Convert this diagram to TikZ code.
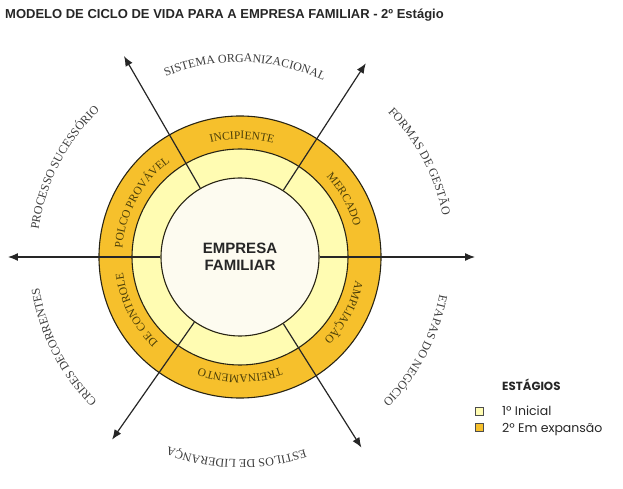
\documentclass[tikz,border=0pt]{standalone}
\usepackage{fontspec}
\setmainfont{Liberation Sans}
\newfontfamily\serifface{Liberation Serif}
\newfontfamily\legendface{Poppins}
\usepackage{tikz}
\usetikzlibrary{decorations.text}
\usetikzlibrary{arrows.meta}

\definecolor{gold}{RGB}{246,192,44}
\definecolor{paleyellow}{RGB}{255,252,178}
\definecolor{cream}{RGB}{253,251,240}
\definecolor{ringink}{RGB}{75,62,8}
\definecolor{outerink}{RGB}{60,60,60}
\definecolor{edge}{RGB}{40,36,20}

\newcommand{\ringfont}{\serifface\fontsize{11.5}{11.5}\selectfont\color{ringink}}
\newcommand{\outerfont}{\serifface\fontsize{12}{12}\selectfont\color{outerink}}
% label inside the gold band, clockwise, tops outward
\newcommand{\ringlabel}[2]{\path[decorate, decoration={text along path, text align=center, text={|\ringfont|#2}}] ({#1+30}:118) arc[start angle=#1+30, end angle=#1-30, radius=118];}
% label outside the wheel
\newcommand{\outerlabel}[3]{\path[decorate, decoration={text along path, text align=center, text={|\outerfont|#3}}] ({#1+45}:#2) arc[start angle=#1+45, end angle=#1-45, radius=#2];}
\newcommand{\spoke}[2]{\draw[spokeline] (core.#1) -- (#2);}

\tikzset{
  ringedge/.style={draw=edge, line width=1.1pt},
  spokeline/.style={draw=black!85, line width=1.2pt, -{Latex[length=10pt,width=8pt]}},
  swatch/.style={draw=black!70, line width=0.5pt, minimum size=8pt, inner sep=0pt},
}

\begin{document}
\begin{tikzpicture}[x=1pt, y=1pt]
    \useasboundingbox (-240,-232) rectangle (383,257);
    % rings
    \fill[gold] (0,0) circle[radius=141];
    \draw[ringedge] (0,0) circle[radius=141];
    \fill[paleyellow] (0,0) circle[radius=108];
    \draw[ringedge] (0,0) circle[radius=108];
    \node[circle, fill=cream, ringedge, minimum size=158pt, inner sep=0pt, align=center,
          font=\bfseries\fontsize{15}{17}\selectfont, text=black!85] (core) at (0,0) {EMPRESA\\FAMILIAR};
    % arrow ends
    \coordinate (tipNW) at (120:232);
    \coordinate (tipNE) at (57:231);
    \coordinate (tipE) at (0:235);
    \coordinate (tipSE) at (-57.5:226);
    \coordinate (tipSW) at (235:223);
    \coordinate (tipW) at (180:232);
    % spokes
    \spoke{120}{tipNW}
    \spoke{57}{tipNE}
    \spoke{0}{tipE}
    \spoke{-57.5}{tipSE}
    \spoke{235}{tipSW}
    \spoke{180}{tipW}
    % band labels
    \ringlabel{89}{INCIPIENTE}
    \ringlabel{29}{MERCADO}
    \ringlabel{-28}{AMPLIAÇÃO}
    \ringlabel{-90}{TREINAMENTO}
    \ringlabel{207}{DE CONTROLE}
    \ringlabel{151}{POLCO PROVÁVEL}
    % outer labels
    \outerlabel{88.5}{195}{SISTEMA ORGANIZACIONAL}
    \outerlabel{28}{207}{FORMAS DE GESTÃO}
    \outerlabel{-28}{203}{ETAPAS DO NEGÓCIO}
    \outerlabel{-91}{203}{ESTILOS DE LIDERANÇA}
    \outerlabel{207}{203}{CRISES DECORRENTES}
    \outerlabel{153}{203}{PROCESSO SUCESSÓRIO}
    % title
    \node[anchor=base west, inner sep=0pt, text=black!85, font=\bfseries\fontsize{13}{13}\selectfont] (title) at (-235,238)
        {MODELO DE CICLO DE VIDA PARA A EMPRESA FAMILIAR - 2º Estágio};
    % legend
    \node[anchor=base west, inner sep=0pt, text=black!85, font=\legendface\bfseries\fontsize{11.8}{11.8}\selectfont] (stages) at (262,-133) {ESTÁGIOS};
    \node[swatch, fill=paleyellow] (swA) at (239,-154) {};
    \node[swatch, fill=gold] (swB) at (239,-170) {};
    \node[anchor=base west, inner sep=0pt, text=black!85, font=\legendface\fontsize{12.5}{12.5}\selectfont] (first) at (262,-158) {1º Inicial};
    \node[anchor=base west, inner sep=0pt, text=black!85, font=\legendface\fontsize{12.5}{12.5}\selectfont] (second) at (262,-175) {2º Em expansão};
\end{tikzpicture}
\end{document}
